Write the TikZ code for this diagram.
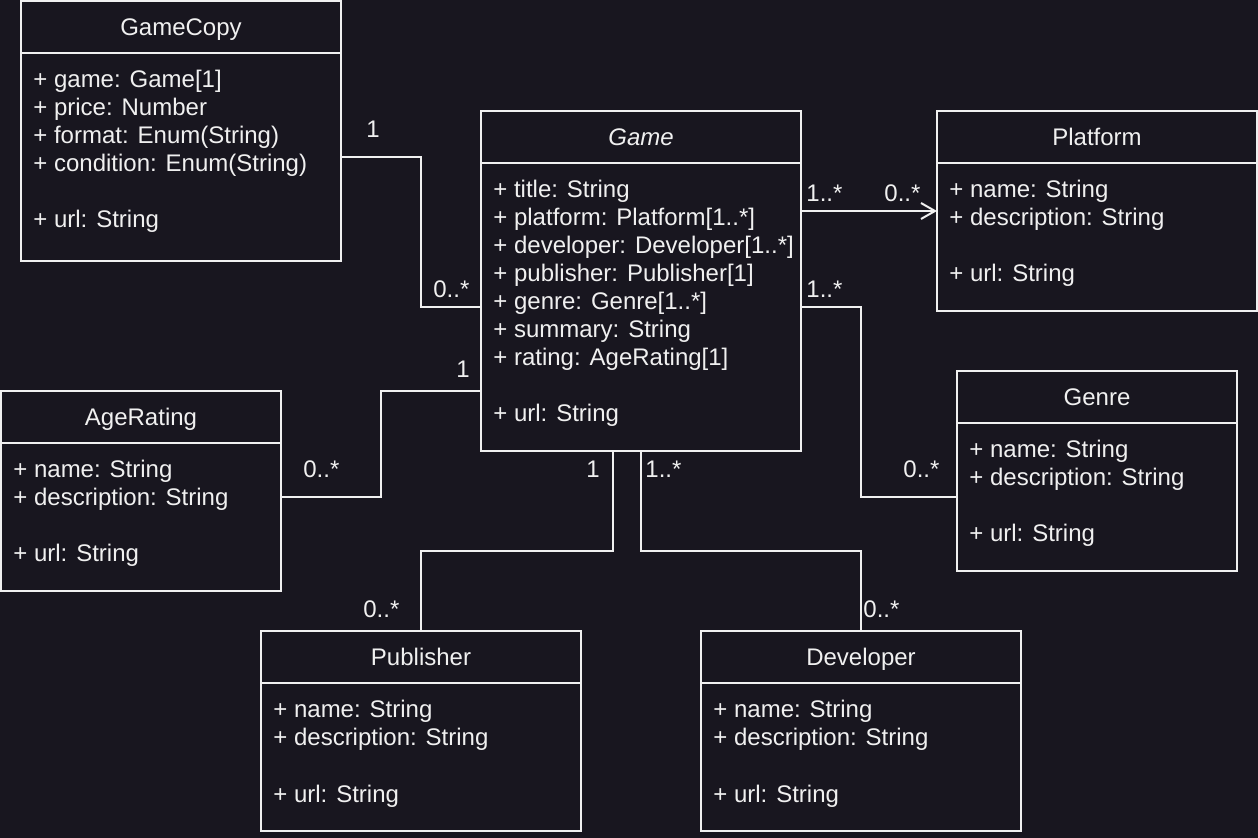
\documentclass[tikz,border=0pt]{standalone}
\usepackage{fontspec}
\setmainfont{Liberation Sans}
\usetikzlibrary{arrows.meta}
\definecolor{bg}{RGB}{24,22,31}
\definecolor{fg}{RGB}{240,240,240}
\newcommand\umlbox[7]{%
  \node[classbox, minimum width=#4*0.5pt, minimum height=#5*0.5pt] (#1) at (#2,#3) {};
  \draw[conn] (#2,{#3+52}) -- ({#2+#4},{#3+52});
  \node[ttl] (#1-t) at ({#2+#4/2},{#3+35}) {#6};
  \foreach \r/\t in {#7} {\node[txt] (#1-a\r) at ({#2+12},{#3+87+(\r-1)*28}) {\t};}
}
\begin{document}
\begin{tikzpicture}[x=0.5pt,y=-0.5pt, font=\fontsize{12pt}{14pt}\selectfont,
  classbox/.style={draw=fg, line width=1pt, fill=bg, inner sep=0pt, outer sep=0pt, anchor=north west},
  txt/.style={text=fg, inner sep=0pt, anchor=base west},
  ttl/.style={text=fg, inner sep=0pt, anchor=base},
  conn/.style={draw=fg, line width=1pt},
  mult/.style={text=fg, inner sep=0pt, anchor=base west}]
\fill[bg] (0,0) rectangle (1258,838);
\useasboundingbox (0,0) rectangle (1258,838);

\umlbox{gamecopy}{21}{1}{320}{260}{GameCopy}{1/{+ game: Game[1]},2/{+ price: Number},3/{+ format: Enum(String)},4/{+ condition: Enum(String)},6/{+ url: String}}
\umlbox{game}{481}{111}{320}{340}{\itshape Game}{1/{+ title: String},2/{+ platform: Platform[1..*]},3/{+ developer: Developer[1..*]},4/{+ publisher: Publisher[1]},5/{+ genre: Genre[1..*]},6/{+ summary: String},7/{+ rating: AgeRating[1]},9/{+ url: String}}
\umlbox{platform}{937}{111}{320}{200}{Platform}{1/{+ name: String},2/{+ description: String},4/{+ url: String}}
\umlbox{genre}{957}{371}{280}{200}{Genre}{1/{+ name: String},2/{+ description: String},4/{+ url: String}}
\umlbox{agerating}{1}{391}{280}{200}{AgeRating}{1/{+ name: String},2/{+ description: String},4/{+ url: String}}
\umlbox{publisher}{261}{631}{320}{200}{Publisher}{1/{+ name: String},2/{+ description: String},4/{+ url: String}}
\umlbox{developer}{701}{631}{320}{200}{Developer}{1/{+ name: String},2/{+ description: String},4/{+ url: String}}

% connectors
\draw[conn] ([yshift=-78pt]gamecopy.north east) -- ++(80,0) |- ([yshift=-98pt]game.north west);
\draw[conn, -{Straight Barb[length=7pt,width=8pt]}] ([yshift=-50pt]game.north east) -- ([yshift=-50pt]platform.north west);
\draw[conn] ([yshift=-98pt]game.north east) -- ++(60,0) |- ([yshift=-63pt]genre.north west);
\draw[conn] ([yshift=-140pt]game.north west) -- ++(-100,0) |- ([yshift=-53pt]agerating.north east);
\draw[conn] ([xshift=66pt]game.south west) -- ++(0,100) -| (publisher.north);
\draw[conn] ([xshift=80pt]game.south west) -- ++(0,100) -| (developer.north);

% multiplicities
\node[mult] (m1) at (366,138) {1};
\node[mult] (m2) at (433,298) {0..*};
\node[mult] (m3) at (806,202) {1..*};
\node[mult] (m4) at (884,202) {0..*};
\node[mult] (m5) at (806,298) {1..*};
\node[mult] (m6) at (903,478) {0..*};
\node[mult] (m7) at (456,378) {1};
\node[mult] (m8) at (303,478) {0..*};
\node[mult] (m9) at (586,478) {1};
\node[mult] (m10) at (645,478) {1..*};
\node[mult] (m11) at (363,618) {0..*};
\node[mult] (m12) at (863,618) {0..*};
\end{tikzpicture}
\end{document}
